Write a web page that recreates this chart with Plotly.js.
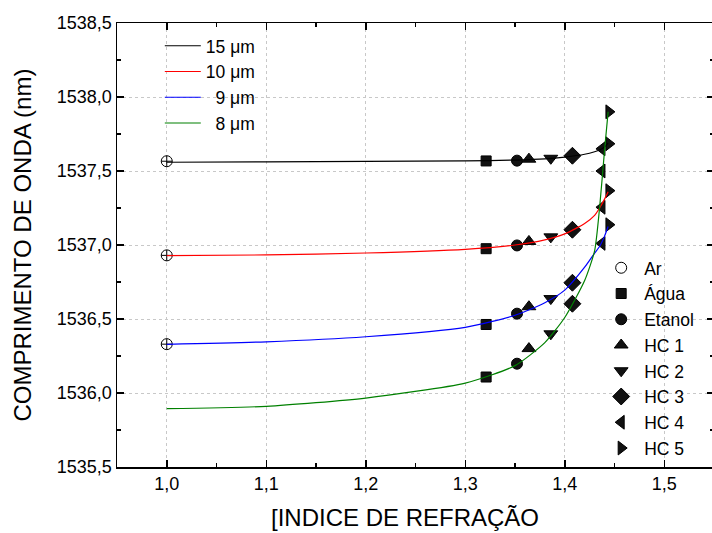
<!DOCTYPE html>
<html>
<head>
<meta charset="utf-8">
<script src="https://cdn.plot.ly/plotly-3.0.1.min.js"></script>
<style>
html,body{margin:0;padding:0;overflow:hidden;background:#fff;}
#chart{width:714px;height:533px;}
</style>
</head>
<body>
<div id="chart"></div>
<script>
// Materials (marker series) and their refractive index positions
const materials = ['Ar', 'Água', 'Etanol', 'HC 1', 'HC 2', 'HC 3', 'HC 4', 'HC 5'];
const refIndex  = [1.000, 1.321, 1.352, 1.364, 1.386, 1.4077, 1.4374, 1.4444];
const symbols   = ['circle-cross-open', 'square', 'circle', 'triangle-up', 'triangle-down', 'diamond', 'triangle-left', 'triangle-right'];
const legendSymbols = ['circle-open', 'square', 'circle', 'triangle-up', 'triangle-down', 'diamond', 'triangle-left', 'triangle-right'];
const markerSizes = [11, 10, 11, 12, 12, 13, 12, 12];

// Measured wavelengths (nm) per grating period
const peak15 = [1537.566, 1537.568, 1537.570, 1537.580, 1537.586, 1537.603, 1537.650, 1537.684];
const peak10 = [1536.930, 1536.975, 1536.997, 1537.024, 1537.055, 1537.103, 1537.255, 1537.367];
const peak9  = [1536.330, 1536.463, 1536.536, 1536.583, 1536.638, 1536.745, 1537.011, 1537.137];
const peak8  = [null,     1536.108, 1536.198, 1536.300, 1536.400, 1536.603, 1537.500, 1537.900];

// Fitted curves
const curveN = [1.000, 1.100, 1.200, 1.300, 1.350, 1.380, 1.400, 1.420, 1.430, 1.435, 1.440, 1.4436];
const fit15  = [1537.559, 1537.562, 1537.565, 1537.568, 1537.574, 1537.582, 1537.594, 1537.613, 1537.630, 1537.642, 1537.662, 1537.688];
const fit10  = [1536.928, 1536.933, 1536.946, 1536.971, 1537.000, 1537.035, 1537.075, 1537.145, 1537.200, 1537.250, 1537.310, 1537.360];
const fit9   = [1536.329, 1536.346, 1536.380, 1536.443, 1536.525, 1536.610, 1536.695, 1536.850, 1536.945, 1536.990, 1537.060, 1537.125];
const fit8   = [1535.894, 1535.910, 1535.966, 1536.067, 1536.185, 1536.340, 1536.510, 1536.760, 1536.960, 1537.250, 1537.640, 1537.900];

const lineNames  = ['15 μm', '10 μm', '\u00a0\u00a09 μm', '\u00a0\u00a08 μm'];
const lineColors = ['#000000', '#ff0000', '#0000ff', '#008000'];

const FONT = 'Liberation Sans, Arial, sans-serif';
const traces = [];

// marker traces
materials.forEach((m, i) => {
  const xs = [], ys = [];
  [peak15, peak10, peak9, peak8].forEach(arr => {
    if (arr[i] !== null) { xs.push(refIndex[i]); ys.push(arr[i]); }
  });
  const isAr = i === 0;
  traces.push({
    type: 'scatter', mode: 'markers', x: xs, y: ys, name: m,
    legend: 'legend2', showlegend: !isAr,
    marker: {
      symbol: symbols[i], size: markerSizes[i],
      color: isAr ? '#000' : '#111',
      line: {color: '#000', width: 1}
    },
    hoverinfo: 'skip'
  });
  if (isAr) {
    traces.push({
      type: 'scatter', mode: 'markers', x: [null], y: [null], name: m,
      legend: 'legend2', showlegend: true,
      marker: {symbol: legendSymbols[i], size: 11, color: '#000', line: {color: '#000', width: 1}}
    });
  }
});

// fitted curves
[fit15, fit10, fit9, fit8].forEach((arr, k) => {
  traces.push({
    type: 'scatter', mode: 'lines', x: curveN, y: arr, name: lineNames[k],
    legend: 'legend',
    line: {color: lineColors[k], width: 1.2, shape: 'spline', smoothing: 0.6},
    hoverinfo: 'skip'
  });
});

const layout = {
  width: 714, height: 533,
  margin: {l: 117, r: 0, t: 23, b: 66, pad: 0},
  paper_bgcolor: '#fff', plot_bgcolor: '#fff',
  font: {family: FONT, size: 18, color: '#000'},
  showlegend: true,
  xaxis: {
    range: [0.95, 1.55], tick0: 1, dtick: 0.1, tickformat: '.1f',
    ticks: 'inside', ticklen: 7, tickwidth: 1.5, tickcolor: '#000',
    showline: true, linecolor: '#000', linewidth: 1.5, mirror: 'ticks',
    showgrid: true, gridcolor: '#c8c8c8', griddash: 'dot', gridwidth: 1,
    zeroline: false,
    tickfont: {family: FONT, size: 18, color: '#000'},
    minor: {ticks: 'inside', ticklen: 4, tickwidth: 1.5, tickcolor: '#000', dtick: 0.05, tick0: 1, showgrid: false}
  },
  yaxis: {
    range: [1535.5, 1538.5], tick0: 1535.5, dtick: 0.5, tickformat: '.1f',
    ticks: 'inside', ticklen: 7, tickwidth: 1.5, tickcolor: '#000',
    showline: true, linecolor: '#000', linewidth: 1.5, mirror: 'ticks',
    showgrid: true, gridcolor: '#c8c8c8', griddash: 'dot', gridwidth: 1,
    zeroline: false,
    tickfont: {family: FONT, size: 18, color: '#000'},
    minor: {ticks: 'inside', ticklen: 4, tickwidth: 1.5, tickcolor: '#000', dtick: 0.25, tick0: 1535.5, showgrid: false}
  },
  separators: ', ',
  legend: {
    x: 0.0717, y: 0.989, xanchor: 'left', yanchor: 'top',
    bgcolor: 'rgba(0,0,0,0)', borderwidth: 0, itemwidth: 36,
    font: {family: FONT, size: 17.5, color: '#000'},
    tracegroupgap: 0
  },
  legend2: {
    x: 0.806, y: 0.489, xanchor: 'left', yanchor: 'top',
    bgcolor: 'rgba(0,0,0,0)', borderwidth: 0, itemwidth: 36,
    font: {family: FONT, size: 17.5, color: '#000'},
    tracegroupgap: 0
  },
  annotations: [
    {text: '[INDICE DE REFRAÇÃO', xref: 'paper', yref: 'paper', x: 0.482, y: -0.114,
     xanchor: 'center', yanchor: 'middle', showarrow: false,
     font: {family: FONT, size: 24, color: '#000'}},
    {text: 'COMPRIMENTO DE ONDA (nm)', xref: 'paper', yref: 'paper', x: -0.159, y: 0.499,
     xanchor: 'center', yanchor: 'middle', textangle: -90, showarrow: false,
     font: {family: FONT, size: 24, color: '#000'}}
  ]
};

Plotly.newPlot('chart', traces, layout, {displayModeBar: false, staticPlot: true});
</script>
</body>
</html>
